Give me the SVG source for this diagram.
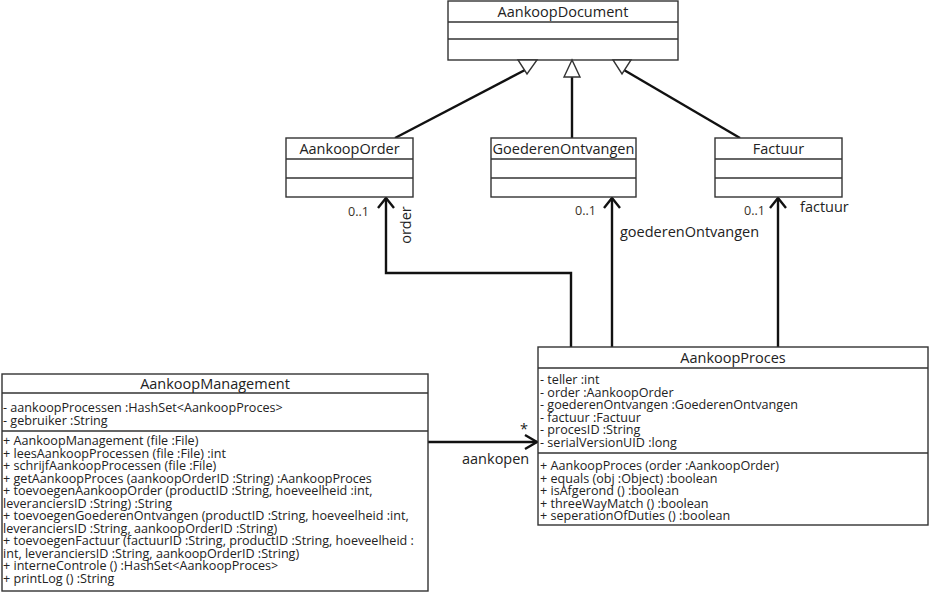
<svg xmlns="http://www.w3.org/2000/svg" width="930" height="593" viewBox="0 0 930 593">
<style>
.box{fill:#fff;stroke:#333;stroke-width:1.4}
.div{stroke:#333;stroke-width:1.4}
.hdr{font-family:"Open Sans","DejaVu Sans",sans-serif;font-size:14.5px;fill:#222;text-anchor:middle}
.mem{font-family:"Open Sans","DejaVu Sans",sans-serif;font-size:12.6px;fill:#222}
.lbl{font-family:"Open Sans","DejaVu Sans",sans-serif;font-size:14.5px;fill:#222}
.mul{font-family:"Open Sans","DejaVu Sans",sans-serif;font-size:12.6px;fill:#3a3228}
.con{fill:none;stroke:#111;stroke-width:2.4}
.gen{fill:#fff;stroke:#333;stroke-width:1.4}
</style>
<rect width="930" height="593" fill="#fff"/>
<g id="connectors">
  <line class="con" x1="395" y1="138" x2="525" y2="70"/>
  <line class="con" x1="572" y1="138" x2="572" y2="76"/>
  <line class="con" x1="740" y1="138" x2="624" y2="70"/>
  <polyline class="con" points="571,348 571,273 386,273 386,198"/>
  <polyline class="con" points="378,208 386,198 394,208"/>
  <line class="con" x1="612" y1="348" x2="612" y2="198"/>
  <polyline class="con" points="604,208 612,198 620,208"/>
  <line class="con" x1="778" y1="348" x2="778" y2="198"/>
  <polyline class="con" points="770,208 778,198 786,208"/>
  <line class="con" x1="428" y1="442" x2="537" y2="442"/>
  <polyline class="con" points="525,435 537,442 525,449"/>
  <text class="mul" x="348" y="216">0..1</text>
  <text class="lbl" transform="translate(411,225) rotate(-90)" text-anchor="middle">order</text>
  <text class="mul" x="575" y="215">0..1</text>
  <text class="lbl" x="620" y="237">goederenOntvangen</text>
  <text class="mul" x="744" y="215">0..1</text>
  <text class="lbl" x="800" y="212">factuur</text>
  <text class="lbl" x="520" y="434">*</text>
  <text class="lbl" x="462" y="464">aankopen</text>
</g>
<g id="AankoopDocument">
  <rect class="box" x="448" y="1" width="230" height="59"/>
  <line class="div" x1="448" y1="22" x2="678" y2="22"/>
  <line class="div" x1="448" y1="39" x2="678" y2="39"/>
  <text class="hdr" x="563" y="17">AankoopDocument</text>
  <polygon class="gen" points="518,60 537,60 527,74"/>
  <polygon class="gen" points="572,60 564,77 580,77"/>
  <polygon class="gen" points="613,60 631,60 622,74"/>
</g>
<g id="AankoopOrder">
  <rect class="box" x="286" y="138" width="127" height="59"/>
  <line class="div" x1="286" y1="159" x2="413" y2="159"/>
  <line class="div" x1="286" y1="178" x2="413" y2="178"/>
  <text class="hdr" x="349.5" y="154">AankoopOrder</text>
</g>
<g id="GoederenOntvangen">
  <rect class="box" x="491" y="138" width="145" height="59"/>
  <line class="div" x1="491" y1="159" x2="636" y2="159"/>
  <line class="div" x1="491" y1="178" x2="636" y2="178"/>
  <text class="hdr" x="563.5" y="154">GoederenOntvangen</text>
</g>
<g id="Factuur">
  <rect class="box" x="715" y="138" width="127" height="59"/>
  <line class="div" x1="715" y1="159" x2="842" y2="159"/>
  <line class="div" x1="715" y1="178" x2="842" y2="178"/>
  <text class="hdr" x="778.5" y="154">Factuur</text>
</g>
<g id="AankoopProces">
  <rect class="box" x="538" y="347" width="390" height="178"/>
  <line class="div" x1="538" y1="368" x2="928" y2="368"/>
  <line class="div" x1="538" y1="453" x2="928" y2="453"/>
  <text class="hdr" x="733" y="363">AankoopProces</text>
  <text class="mem" x="540" y="384">- teller :int</text>
  <text class="mem" x="540" y="396.5">- order :AankoopOrder</text>
  <text class="mem" x="540" y="409">- goederenOntvangen :GoederenOntvangen</text>
  <text class="mem" x="540" y="421.5">- factuur :Factuur</text>
  <text class="mem" x="540" y="434">- procesID :String</text>
  <text class="mem" x="540" y="446.5">- serialVersionUID :long</text>
  <text class="mem" x="540" y="470">+ AankoopProces (order :AankoopOrder)</text>
  <text class="mem" x="540" y="482.5">+ equals (obj :Object) :boolean</text>
  <text class="mem" x="540" y="495">+ isAfgerond () :boolean</text>
  <text class="mem" x="540" y="507.5">+ threeWayMatch () :boolean</text>
  <text class="mem" x="540" y="520">+ seperationOfDuties () :boolean</text>
</g>
<g id="AankoopManagement">
  <rect class="box" x="2" y="374" width="426" height="217"/>
  <line class="div" x1="2" y1="393" x2="428" y2="393"/>
  <line class="div" x1="2" y1="431" x2="428" y2="431"/>
  <text class="hdr" x="215" y="389">AankoopManagement</text>
  <text class="mem" x="3" y="412">- aankoopProcessen :HashSet&lt;AankoopProces&gt;</text>
  <text class="mem" x="3" y="424.5">- gebruiker :String</text>
  <text class="mem" x="3" y="445">+ AankoopManagement (file :File)</text>
  <text class="mem" x="3" y="457.5">+ leesAankoopProcessen (file :File)  :int</text>
  <text class="mem" x="3" y="470">+ schrijfAankoopProcessen (file :File)</text>
  <text class="mem" x="3" y="482.5">+ getAankoopProces (aankoopOrderID :String) :AankoopProces</text>
  <text class="mem" x="3" y="495">+ toevoegenAankoopOrder (productID :String, hoeveelheid :int,</text>
  <text class="mem" x="3" y="507.5">leveranciersID :String) :String</text>
  <text class="mem" x="3" y="520">+ toevoegenGoederenOntvangen (productID :String, hoeveelheid :int,</text>
  <text class="mem" x="3" y="532.5">leveranciersID :String, aankoopOrderID :String)</text>
  <text class="mem" x="3" y="545">+ toevoegenFactuur (factuurID :String, productID :String, hoeveelheid :</text>
  <text class="mem" x="3" y="557.5">int, leveranciersID :String, aankoopOrderID :String)</text>
  <text class="mem" x="3" y="570">+ interneControle () :HashSet&lt;AankoopProces&gt;</text>
  <text class="mem" x="3" y="582.5">+ printLog () :String</text>
</g>
</svg>
